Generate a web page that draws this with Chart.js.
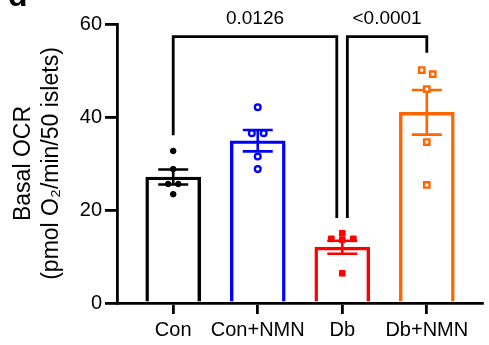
<!DOCTYPE html>
<html>
<head>
<meta charset="utf-8">
<script src="https://cdn.jsdelivr.net/npm/chart.js@4.4.1/dist/chart.umd.min.js"></script>
<style>
  html, body { margin: 0; padding: 0; background: #fff; }
</style>
</head>
<body>
<canvas id="chart" width="489" height="345"></canvas>
<script>
// Groups and values
const groups = ["Con", "Con+NMN", "Db", "Db+NMN"];
const means = [27.1, 34.9, 12.0, 41.0];
const sems = [1.6, 2.3, 1.4, 4.8];

// individual islet preps (jitter is the small sideways spread, in category units)
const conPoints = [32.7, 28.8, 25.6, 25.6, 23.4];
const conJitter = [0, 0, -0.06, 0.06, 0];
const conNmnPoints = [42.1, 36.5, 36.5, 31.5, 28.8];
const conNmnJitter = [0, -0.07, 0.07, 0, 0];
const dbPoints = [15.0, 13.8, 13.6, 13.8, 6.4];
const dbJitter = [0, -0.13, 0, 0.13, 0];
const dbNmnPoints = [50.1, 49.2, 46.0, 34.6, 25.4];
const dbNmnJitter = [-0.06, 0.07, 0, 0, 0];

const yTicks = [0, 20, 40, 60];

// significance brackets
const pLabels = ["0.0126", "<0.0001"];
const bracketFrom = [0, 2.06];
const bracketTo = [1.935, 3];
const bracketTop = [57.3, 57.3];
const bracketFromEnd = [36.1, 18.3];
const bracketToEnd = [18.3, 53.8];

const colors = ["#000000", "#0000ff", "#ff0000", "#ff6600"];
const FONT = '"Liberation Sans", Arial, Helvetica, sans-serif';

Chart.defaults.font.family = FONT;
Chart.defaults.color = "#000";

function pointSet(values, jitter, i, style, filled, radius, bw) {
  return {
    type: "scatter",
    order: 1,
    data: values.map((v, k) => ({ x: i + jitter[k], y: v })),
    pointStyle: style,
    pointRadius: radius,
    pointBorderWidth: bw,
    borderColor: colors[i],
    backgroundColor: filled ? colors[i] : "#ffffff",
  };
}

// error bars (under the points) and p-value brackets
const extras = {
  id: "extras",
  afterDatasetDraw(chart, args) {
    if (args.index !== 0) return;
    const { ctx, scales: { x, y } } = chart;
    ctx.save();
    ctx.lineWidth = 2.6;
    means.forEach((m, i) => {
      const cx = x.getPixelForValue(i);
      const top = y.getPixelForValue(m + sems[i]);
      const bot = y.getPixelForValue(m - sems[i]);
      ctx.strokeStyle = colors[i];
      ctx.beginPath();
      ctx.moveTo(cx, top); ctx.lineTo(cx, bot);
      ctx.moveTo(cx - 15, top); ctx.lineTo(cx + 15, top);
      ctx.moveTo(cx - 15, bot); ctx.lineTo(cx + 15, bot);
      ctx.stroke();
    });
    ctx.restore();
  },
  afterDatasetsDraw(chart) {
    const { ctx, scales: { x, y } } = chart;
    ctx.save();
    ctx.lineWidth = 2.8;
    ctx.strokeStyle = "#000";
    ctx.lineJoin = "miter";
    pLabels.forEach((label, i) => {
      const x1 = x.getPixelForValue(bracketFrom[i]);
      const x2 = x.getPixelForValue(bracketTo[i]);
      const yt = y.getPixelForValue(bracketTop[i]);
      ctx.beginPath();
      ctx.moveTo(x1, y.getPixelForValue(bracketFromEnd[i]));
      ctx.lineTo(x1, yt);
      ctx.lineTo(x2, yt);
      ctx.lineTo(x2, y.getPixelForValue(bracketToEnd[i]));
      ctx.stroke();
      ctx.fillStyle = "#000";
      ctx.font = "19px " + FONT;
      ctx.textAlign = "center";
      ctx.textBaseline = "middle";
      ctx.fillText(label, (x1 + x2) / 2, yt - 18);
    });
    // panel letter, cropped at the top edge
    ctx.font = "bold 32px " + FONT;
    ctx.textAlign = "left";
    ctx.textBaseline = "alphabetic";
    ctx.fillText("d", 8, 6);
    ctx.restore();
  },
};

new Chart(document.getElementById("chart"), {
  type: "bar",
  data: {
    datasets: [
      {
        type: "bar",
        order: 3,
        data: means.map((m, i) => ({ x: i, y: m })),
        borderColor: colors,
        backgroundColor: "rgba(255,255,255,0)",
        borderWidth: 2.8,
        barThickness: 55,
      },
      pointSet(conPoints, conJitter, 0, "circle", true, 2.8, 1),
      pointSet(conNmnPoints, conNmnJitter, 1, "circle", false, 2.9, 2.3),
      pointSet(dbPoints, dbJitter, 2, "rect", true, 4, 1),
      pointSet(dbNmnPoints, dbNmnJitter, 3, "rect", false, 3.8, 2.4),
    ],
  },
  options: {
    responsive: false,
    animation: false,
    devicePixelRatio: 1,
    events: [],
    layout: { padding: { top: 24, right: 1, left: 0, bottom: 0 } },
    plugins: { legend: { display: false }, tooltip: { enabled: false } },
    scales: {
      x: {
        type: "linear",
        min: -0.665,
        max: 3.66,
        offset: false,
        afterBuildTicks: (s) => { s.ticks = groups.map((g, i) => ({ value: i })); },
        afterFit: (s) => { s.height = 42; },
        ticks: {
          callback: (v) => groups[v],
          font: { size: 20 },
          color: "#000",
          padding: 4,
          maxRotation: 0,
          autoSkip: false,
        },
        grid: {
          drawOnChartArea: false,
          offset: false,
          tickLength: 11,
          lineWidth: 2.8,
          color: "#000",
        },
        border: { color: "#000", width: 2.8 },
      },
      y: {
        min: 0,
        max: 60,
        afterBuildTicks: (s) => { s.ticks = yTicks.map((v) => ({ value: v })); },
        afterFit: (s) => { s.width = 117; },
        ticks: { font: { size: 20 }, color: "#000", padding: 3 },
        grid: {
          drawOnChartArea: false,
          tickLength: 12,
          lineWidth: 2.8,
          color: "#000",
        },
        border: { color: "#000", width: 2.8 },
        title: {
          display: true,
          text: ["Basal OCR", "(pmol O\u2082/min/50 islets)"],
          font: { size: 23, lineHeight: 1.25 },
          color: "#000",
          padding: { top: 9, bottom: 0 },
        },
      },
    },
  },
  plugins: [extras],
});
</script>
</body>
</html>
